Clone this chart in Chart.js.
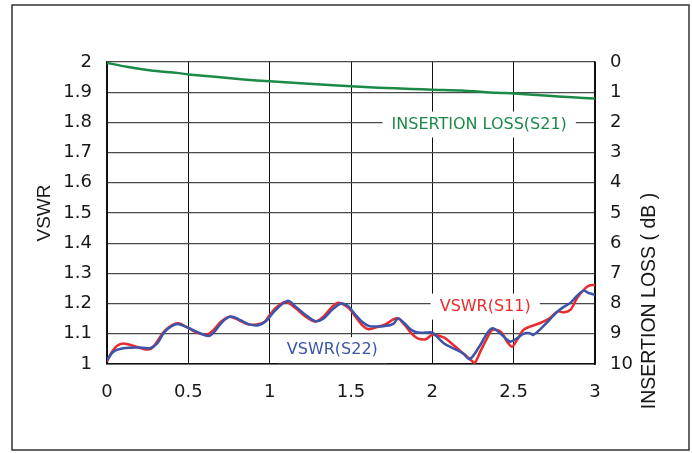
<!DOCTYPE html>
<html>
<head>
<meta charset="utf-8">
<script src="https://cdn.jsdelivr.net/npm/chart.js@4.4.1/dist/chart.umd.min.js"></script>
<style>
  html, body { margin: 0; padding: 0; background: #fff; }
  #wrap { position: relative; width: 692px; height: 453px; }
</style>
</head>
<body>
<div id="wrap"><canvas id="chart" width="692" height="453"></canvas></div>
<script>
// frequency (GHz) on x, VSWR on left axis, insertion loss (dB) on right axis
const xTicks = [0, 0.5, 1, 1.5, 2, 2.5, 3];
const vswrTicks = [1, 1.1, 1.2, 1.3, 1.4, 1.5, 1.6, 1.7, 1.8, 1.9, 2];
const lossTicks = [0, 1, 2, 3, 4, 5, 6, 7, 8, 9, 10];

const s11Freq = [0, 0.03, 0.06, 0.1, 0.165, 0.23, 0.27, 0.3, 0.35, 0.4, 0.44, 0.49, 0.55, 0.615, 0.655,
  0.7, 0.75, 0.8, 0.86, 0.92, 0.97, 1, 1.035, 1.097, 1.16, 1.22, 1.28, 1.33, 1.385, 1.425, 1.486, 1.527,
  1.568, 1.609, 1.66, 1.71, 1.76, 1.79, 1.83, 1.87, 1.91, 1.96, 2, 2.07, 2.13, 2.19, 2.23, 2.26, 2.295,
  2.336, 2.37, 2.42, 2.46, 2.49, 2.52, 2.56, 2.6, 2.66, 2.72, 2.77, 2.81, 2.85, 2.89, 2.93, 2.96, 3];
const s11Vswr = [1.008, 1.04, 1.06, 1.068, 1.06, 1.049, 1.05, 1.068, 1.107, 1.129, 1.135, 1.122, 1.104, 1.098, 1.113,
  1.14, 1.156, 1.148, 1.132, 1.131, 1.14, 1.162, 1.185, 1.205, 1.185, 1.157, 1.14, 1.157, 1.19, 1.203, 1.185, 1.157,
  1.129, 1.115, 1.122, 1.131, 1.148, 1.151, 1.129, 1.102, 1.085, 1.082, 1.097, 1.088, 1.063, 1.035, 1.017, 1.004, 1.041,
  1.085, 1.113, 1.107, 1.074, 1.057, 1.079, 1.113, 1.124, 1.135, 1.151, 1.174, 1.171, 1.18, 1.218, 1.245, 1.259, 1.262];

const s22Freq = [0, 0.04, 0.1, 0.185, 0.267, 0.31, 0.35, 0.4, 0.44, 0.5, 0.55, 0.625, 0.665, 0.71, 0.76,
  0.81, 0.87, 0.93, 0.98, 1.03, 1.11, 1.16, 1.22, 1.28, 1.33, 1.385, 1.44, 1.486, 1.527, 1.568, 1.609,
  1.66, 1.71, 1.76, 1.79, 1.83, 1.87, 1.91, 1.96, 2, 2.07, 2.13, 2.19, 2.23, 2.295, 2.336, 2.37, 2.42,
  2.46, 2.48, 2.52, 2.56, 2.6, 2.62, 2.66, 2.72, 2.77, 2.81, 2.85, 2.89, 2.93, 2.96, 3];
const s22Vswr = [1.013, 1.041, 1.052, 1.055, 1.053, 1.069, 1.104, 1.126, 1.132, 1.12, 1.107, 1.093, 1.11, 1.14, 1.157,
  1.148, 1.132, 1.128, 1.143, 1.175, 1.209, 1.19, 1.163, 1.142, 1.15, 1.18, 1.2, 1.19, 1.163, 1.14, 1.126,
  1.124, 1.126, 1.133, 1.151, 1.134, 1.113, 1.104, 1.104, 1.104, 1.069, 1.052, 1.035, 1.016, 1.063, 1.101, 1.118, 1.1,
  1.08, 1.074, 1.085, 1.1, 1.102, 1.096, 1.113, 1.146, 1.174, 1.19, 1.203, 1.226, 1.243, 1.235, 1.229];

const s21Freq = [0, 0.12, 0.27, 0.43, 0.5, 0.68, 0.84, 1, 1.19, 1.39, 1.5, 1.67, 1.87, 2, 2.18, 2.39, 2.5, 2.69, 2.86, 3];
const s21Loss = [0.03, 0.16, 0.28, 0.36, 0.41, 0.5, 0.58, 0.64, 0.7, 0.77, 0.8, 0.85, 0.89, 0.92, 0.945, 1.02, 1.04, 1.11, 1.17, 1.21];

const RED = '#ec2a2e';
const BLUE = '#3c55a9';
const GREEN = '#1c8a47';
const TEXT = '#1a1718';

function toPoints(xs, ys) {
  return xs.map((x, i) => ({ x, y: ys[i] }));
}

// text labels placed in data coordinates (freq, vswr)
const notes = [
  { text: 'INSERTION LOSS(S21)', x: 2.288, y: 1.793, color: GREEN },
  { text: 'VSWR(S11)', x: 2.325, y: 1.19, color: RED },
  { text: 'VSWR(S22)', x: 1.385, y: 1.046, color: BLUE },
];

const notesPlugin = {
  id: 'notes',
  beforeDraw(chart) {
    const ctx = chart.ctx;
    ctx.save();
    ctx.fillStyle = '#fff';
    ctx.fillRect(0, 0, chart.width, chart.height);
    ctx.strokeStyle = '#333';
    ctx.lineWidth = 1.5;
    ctx.strokeRect(12, 5, 677, 445);
    ctx.restore();
  },
  beforeDatasetsDraw(chart) {
    const ctx = chart.ctx;
    const xs = chart.scales.x;
    const ys = chart.scales.y;
    ctx.save();
    ctx.font = '16px "DejaVu Sans"';
    ctx.textBaseline = 'middle';
    ctx.textAlign = 'center';
    notes.forEach((n) => {
      const px = xs.getPixelForValue(n.x);
      const py = ys.getPixelForValue(n.y);
      const w = ctx.measureText(n.text).width;
      ctx.fillStyle = '#fff';
      ctx.fillRect(px - w / 2 - 9, py - 13, w + 18, 26);
      ctx.fillStyle = n.color;
      ctx.fillText(n.text, px, py);
    });
    ctx.restore();
  },
  afterDraw(chart) {
    // right axis title sits lower than the axis middle in the original
    const ctx = chart.ctx;
    ctx.save();
    ctx.translate(650, 301);
    ctx.rotate(-Math.PI / 2);
    ctx.font = '19.5px "Liberation Sans"';
    ctx.fillStyle = TEXT;
    ctx.textAlign = 'center';
    ctx.textBaseline = 'middle';
    ctx.fillText('INSERTION LOSS ( dB )', 0, 0);
    ctx.restore();
  },
};

const tickFont = { family: 'DejaVu Sans', size: 18 };

new Chart(document.getElementById('chart'), {
  type: 'line',
  data: {
    datasets: [
      {
        label: 'VSWR(S22)',
        data: toPoints(s22Freq, s22Vswr),
        borderColor: BLUE,
        borderWidth: 2.5,
        tension: 0.3,
        pointRadius: 0,
        yAxisID: 'y',
        order: 0,
      },
      {
        label: 'VSWR(S11)',
        data: toPoints(s11Freq, s11Vswr),
        borderColor: RED,
        borderWidth: 2.5,
        tension: 0.3,
        pointRadius: 0,
        yAxisID: 'y',
        order: 1,
      },
      {
        label: 'INSERTION LOSS(S21)',
        data: toPoints(s21Freq, s21Loss),
        borderColor: GREEN,
        borderWidth: 2.5,
        tension: 0.2,
        pointRadius: 0,
        yAxisID: 'y2',
        order: 2,
      },
    ],
  },
  options: {
    responsive: false,
    animation: false,
    layout: { padding: { top: 62, left: 0, right: 0, bottom: 0 } },
    plugins: {
      legend: { display: false },
      tooltip: { enabled: false },
    },
    scales: {
      x: {
        type: 'linear',
        min: 0,
        max: 3,
        afterBuildTicks: (scale) => { scale.ticks = xTicks.map((v) => ({ value: v })); },
        afterFit: (scale) => { scale.height = 89; },
        ticks: { font: tickFont, color: TEXT, padding: 18, maxRotation: 0, callback: (v) => String(v) },
        grid: { color: '#111', lineWidth: 1, drawTicks: false },
        border: { color: '#111', width: 1.5 },
      },
      y: {
        position: 'left',
        min: 1,
        max: 2,
        afterBuildTicks: (scale) => { scale.ticks = vswrTicks.map((v) => ({ value: v })); },
        afterFit: (scale) => { scale.width = 107; },
        ticks: { font: tickFont, color: TEXT, padding: 15, callback: (v) => String(Number(v.toFixed(1))) },
        grid: { color: '#4a4a4a', lineWidth: 1.3, drawTicks: false },
        border: { color: '#111', width: 1.5 },
        title: {
          display: true,
          text: 'VSWR',
          color: TEXT,
          font: { family: 'Liberation Sans', size: 19 },
          padding: { top: 33, bottom: 0 },
        },
      },
      y2: {
        position: 'right',
        min: 0,
        max: 10,
        reverse: true,
        afterBuildTicks: (scale) => { scale.ticks = lossTicks.map((v) => ({ value: v })); },
        afterFit: (scale) => { scale.width = 97; },
        ticks: { font: tickFont, color: TEXT, padding: 15 },
        grid: { display: false, drawTicks: false },
        border: { color: '#111', width: 1.5 },
      },
    },
  },
  plugins: [notesPlugin],
});
</script>
</body>
</html>
